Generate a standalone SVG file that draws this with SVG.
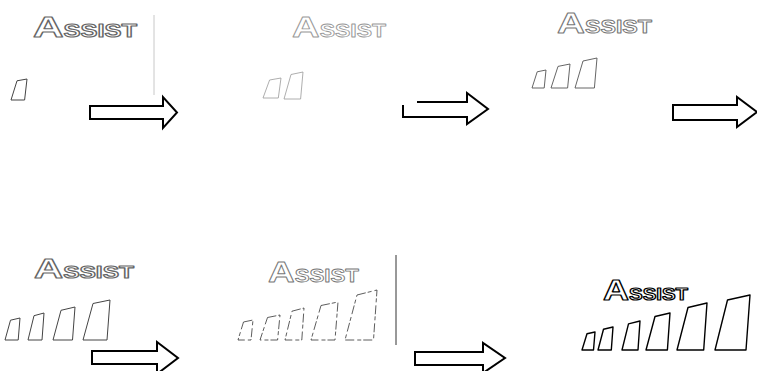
<svg xmlns="http://www.w3.org/2000/svg" width="757" height="371" viewBox="0 0 757 371">
<style>
  .lbl { font-family: "Liberation Sans", "DejaVu Sans", sans-serif; font-weight: bold; fill: #fff; stroke: #666; stroke-width: 1.1; stroke-linejoin: round; }
  .bar { fill: none; stroke: #444; stroke-width: 1; stroke-linejoin: round; }
  .arrow { fill: #fff; stroke: #000; stroke-width: 2; stroke-linejoin: miter; }
  .light { stroke: #999; stroke-width: 0.8; }
  .thin { stroke: #333; stroke-width: 0.8; stroke-dasharray: 9 2 4 3; }
  .dark { stroke: #000; stroke-width: 1.4; }
</style>
<rect width="757" height="371" fill="#fff"/>

<g id="panel1">
  <text class="lbl" x="33" y="37" font-size="30" textLength="104" lengthAdjust="spacingAndGlyphs">A<tspan font-size="18">SSIST</tspan></text>
  <path class="bar" d="M17,80.8 L27,79 L24.6,100 L11,100 Z"/>
  <line x1="154" y1="15" x2="154" y2="95" stroke="#c8c8c8" stroke-width="1"/>
</g>

<g id="panel2">
  <text class="lbl light" x="292" y="37" font-size="30" textLength="94" lengthAdjust="spacingAndGlyphs">A<tspan font-size="18">SSIST</tspan></text>
  <path class="bar light" d="M269.6,80 L281,78 L278.3,98 L263,98 Z"/>
  <path class="bar light" d="M291,74.5 L303,72 L300.6,99 L284,99 Z"/>
</g>

<g id="panel3">
  <text class="lbl" x="557" y="33" font-size="30" textLength="95" lengthAdjust="spacingAndGlyphs" style="stroke:#777;stroke-width:0.9">A<tspan font-size="18">SSIST</tspan></text>
  <path class="bar" style="stroke:#555;stroke-width:0.9" d="M537.2,71.8 L546,70 L544.2,88 L532,88 Z"/>
  <path class="bar" style="stroke:#555;stroke-width:0.9" d="M558,66.4 L570,64 L567.6,88 L551,88 Z"/>
  <path class="bar" style="stroke:#555;stroke-width:0.9" d="M583,61 L597,58 L594.4,88 L575,88 Z"/>
</g>

<g id="panel4">
  <text class="lbl" x="34" y="278" font-size="28" textLength="100" lengthAdjust="spacingAndGlyphs">A<tspan font-size="17">SSIST</tspan></text>
  <path class="bar" d="M10.5,320.2 L20,318 L18.2,340 L5,340 Z"/>
  <path class="bar" d="M34,315.7 L44,313 L42,340 L28,340 Z"/>
  <path class="bar" d="M61,310.3 L75,307 L72.5,340 L53,340 Z"/>
  <path class="bar" d="M93,303.5 L110,300 L107,340 L83,340 Z"/>
</g>

<g id="panel5">
  <text class="lbl" x="268" y="282" font-size="29" textLength="91" lengthAdjust="spacingAndGlyphs" style="stroke:#777;stroke-width:0.8">A<tspan font-size="17.5">SSIST</tspan></text>
  <path class="bar thin" d="M243.5,322 L253,320 L251,340 L238,340 Z"/>
  <path class="bar thin" d="M267.5,317.5 L280,315 L277.6,340 L260,340 Z"/>
  <path class="bar thin" d="M292,311.2 L304,308 L301.8,340 L285,340 Z"/>
  <path class="bar thin" d="M321,305.5 L338,302 L335,340 L311,340 Z"/>
  <path class="bar thin" d="M357,295 L377,290 L373.5,340 L345,340 Z"/>
  <line x1="396" y1="255" x2="396" y2="345" stroke="#333" stroke-width="1"/>
</g>

<g id="panel6">
  <text class="lbl dark" x="603" y="300" font-size="30" textLength="85" lengthAdjust="spacingAndGlyphs" style="stroke-width:1.2">A<tspan font-size="17">SSIST</tspan></text>
  <path class="bar dark" d="M587,333.8 L595,332 L593.5,350 L582,350 Z"/>
  <path class="bar dark" d="M603.5,329.3 L613,327 L611.3,350 L598,350 Z"/>
  <path class="bar dark" d="M628.5,323.9 L640,321 L638,350 L622,350 Z"/>
  <path class="bar dark" d="M655,316.5 L670,313 L667.4,350 L646,350 Z"/>
  <path class="bar dark" d="M688,307.5 L707,303 L703.7,350 L677,350 Z"/>
  <path class="bar dark" d="M727.5,300 L750,295 L746,350 L715,350 Z"/>
</g>

<g id="connectors">
  <path class="arrow" d="M90,106 H163 V97 L177,112.5 L163,128 V119 H90 Z"/>
  <path class="arrow" style="fill:none" d="M417,102 H467 V93 L488,109 L467,124 V117 H403 V105"/>
  <path class="arrow" d="M673,105 H737 V97 L757,112 L737,127 V120 H673 Z"/>
  <path class="arrow" d="M92,351 H157 V342 L178,358 L157,374 V364 H92 Z"/>
  <path class="arrow" d="M415,352 H483 V343 L505,358 L483,373 V365 H415 Z"/>
</g>
</svg>
